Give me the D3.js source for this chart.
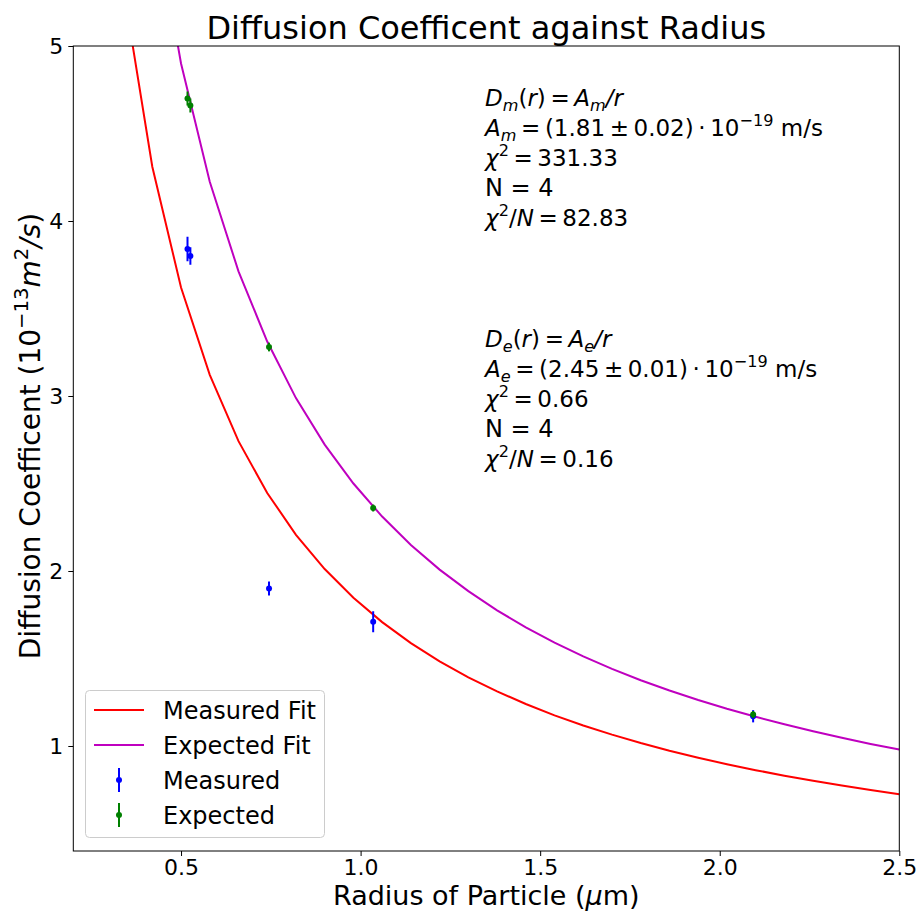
<!DOCTYPE html>
<html>
<head>
<meta charset="utf-8">
<script src="https://cdn.jsdelivr.net/npm/d3@7"></script>
<style>
  body { margin: 0; background: #fff; }
  text { font-family: "DejaVu Sans", sans-serif; }
</style>
</head>
<body>
<svg id="chart" width="919" height="913"></svg>
<script>
// data
var radius = [0.518, 0.526, 0.745, 1.035, 2.093];
var measured = [3.84, 3.80, 1.90, 1.71, 1.17];
var measuredErr = [0.07, 0.05, 0.04, 0.06, 0.035];
var expected = [4.70, 4.66, 3.28, 2.36, 1.18];
var expectedErr = [0.04, 0.04, 0.025, 0.02, 0.02];

// fit curves, sampled every 0.08 um
var fitRadius = [0.34, 0.42, 0.50, 0.58, 0.66, 0.74, 0.82, 0.90, 0.98, 1.06, 1.14, 1.22, 1.30, 1.38,
    1.46, 1.54, 1.62, 1.70, 1.78, 1.86, 1.94, 2.02, 2.10, 2.18, 2.26, 2.34, 2.42, 2.50];
var measuredFit = [5.324, 4.310, 3.620, 3.121, 2.742, 2.446, 2.207, 2.011, 1.847, 1.708, 1.588, 1.484,
    1.392, 1.312, 1.240, 1.175, 1.117, 1.065, 1.017, 0.973, 0.933, 0.896, 0.862, 0.830, 0.801, 0.774,
    0.748, 0.724];
var expectedFit = [7.206, 5.833, 4.900, 4.224, 3.712, 3.311, 2.988, 2.722, 2.500, 2.311, 2.149, 2.008,
    1.885, 1.775, 1.678, 1.591, 1.512, 1.441, 1.376, 1.317, 1.263, 1.213, 1.167, 1.124, 1.084, 1.047,
    1.012, 0.980];

var xTicks = [0.5, 1.0, 1.5, 2.0, 2.5];
var yTicks = [1, 2, 3, 4, 5];

var svg = d3.select("#chart");
var pLeft = 73.3, pRight = 899.3, pTop = 46, pBottom = 851;

var x = d3.scaleLinear().domain([0.2, 2.5]).range([pLeft, pRight]);
var y = d3.scaleLinear().domain([0.4, 5]).range([pBottom, pTop]);

svg.append("defs").append("clipPath").attr("id", "plotclip")
    .append("rect").attr("x", pLeft).attr("y", pTop)
    .attr("width", pRight - pLeft).attr("height", pBottom - pTop);

var plot = svg.append("g").attr("clip-path", "url(#plotclip)");

var line = d3.line().x(function (d) { return x(d[0]); }).y(function (d) { return y(d[1]); });

plot.append("path")
    .datum(d3.zip(fitRadius, measuredFit))
    .attr("d", line).attr("fill", "none").attr("stroke", "#ff0000").attr("stroke-width", 2);
plot.append("path")
    .datum(d3.zip(fitRadius, expectedFit))
    .attr("d", line).attr("fill", "none").attr("stroke", "#bf00bf").attr("stroke-width", 2);

function errorPoints(vals, errs, color) {
    var g = plot.append("g");
    radius.forEach(function (r, i) {
        g.append("line")
            .attr("x1", x(r)).attr("x2", x(r))
            .attr("y1", y(vals[i] - errs[i])).attr("y2", y(vals[i] + errs[i]))
            .attr("stroke", color).attr("stroke-width", 2);
        g.append("circle")
            .attr("cx", x(r)).attr("cy", y(vals[i])).attr("r", 3)
            .attr("fill", color);
    });
}
errorPoints(measured, measuredErr, "#0000ff");
errorPoints(expected, expectedErr, "#008000");

// axes
var xAxis = svg.append("g").attr("transform", "translate(0," + pBottom + ")")
    .call(d3.axisBottom(x).tickValues(xTicks).tickFormat(d3.format(".1f")).tickSize(5).tickSizeOuter(0));
var yAxis = svg.append("g").attr("transform", "translate(" + pLeft + ",0)")
    .call(d3.axisLeft(y).tickValues(yTicks).tickFormat(d3.format("d")).tickSize(5).tickSizeOuter(0));
[xAxis, yAxis].forEach(function (a) {
    a.attr("font-size", 22).attr("font-family", "DejaVu Sans");
    a.select(".domain").remove();
    a.selectAll(".tick line").attr("stroke", "#000").attr("stroke-width", 1);
    a.selectAll(".tick text").attr("fill", "#000");
});
xAxis.selectAll(".tick text").attr("dy", "0.71em").attr("y", 8);
yAxis.selectAll(".tick text").attr("x", -10);

svg.append("rect").attr("x", pLeft).attr("y", pTop)
    .attr("width", pRight - pLeft).attr("height", pBottom - pTop)
    .attr("fill", "none").attr("stroke", "#000").attr("stroke-width", 1);

// math-ish text: segments with italic / sub / sup
function mathText(parent, px, py, segs, size, anchor) {
    var t = parent.append("text").attr("x", px).attr("y", py)
        .attr("font-size", size).attr("fill", "#000");
    if (anchor) t.attr("text-anchor", anchor);
    var shift = 0;
    segs.forEach(function (s) {
        var target = 0, fs = size;
        if (s.sub) { target = 0.22 * size; fs = size * 0.7; }
        if (s.sup) { target = -0.42 * size; fs = size * 0.7; }
        var sp = t.append("tspan").text(s.t).attr("font-size", fs)
            .attr("dy", target - shift);
        if (s.it) sp.attr("font-style", "italic");
        shift = target;
    });
    return t;
}

svg.append("text").attr("x", (pLeft + pRight) / 2).attr("y", 39)
    .attr("text-anchor", "middle").attr("font-size", 32).attr("fill", "#000")
    .text("Diffusion Coefficent against Radius");

svg.append("text").attr("x", (pLeft + pRight) / 2).attr("y", 905)
    .attr("text-anchor", "middle").attr("font-size", 27).attr("fill", "#000")
    .call(function (t) {
        t.append("tspan").text("Radius of Particle (");
        t.append("tspan").text("μ").attr("font-style", "italic");
        t.append("tspan").text("m)");
    });

var ylab = svg.append("g").attr("transform", "translate(40,436) rotate(-90)");
mathText(ylab, 0, 0, [
    { t: "Diffusion Coefficent (10" },
    { t: "−13", sup: 1 },
    { t: "m", it: 1 },
    { t: "2", sup: 1 },
    { t: "/s", it: 1 },
    { t: ")" }
], 28, "middle");

// fit annotations
var fs = 23, lh = 30;
function block(y0, sub, a, chi, n, chin) {
    mathText(svg, 485, y0, [
        { t: "D", it: 1 }, { t: sub, it: 1, sub: 1 }, { t: "(" }, { t: "r", it: 1 }, { t: ")\u2009=\u2009" },
        { t: "A", it: 1 }, { t: sub, it: 1, sub: 1 }, { t: "/r", it: 1 }
    ], fs);
    mathText(svg, 485, y0 + lh, [
        { t: "A", it: 1 }, { t: sub, it: 1, sub: 1 }, { t: "\u2009=\u2009(" + a + ")\u2009·\u200910" },
        { t: "−19", sup: 1 }, { t: " m/s" }
    ], fs);
    mathText(svg, 485, y0 + 2 * lh, [
        { t: "χ", it: 1 }, { t: "2", sup: 1 }, { t: "\u2009=\u2009" + chi }
    ], fs);
    mathText(svg, 485, y0 + 3 * lh, [{ t: "N = " + n }], 24);
    mathText(svg, 485, y0 + 4 * lh, [
        { t: "χ", it: 1 }, { t: "2", sup: 1 }, { t: "/" }, { t: "N", it: 1 }, { t: "\u2009=\u2009" + chin }
    ], fs);
}
block(106, "m", "1.81\u2009±\u20090.02", "331.33", 4, "82.83");
block(347, "e", "2.45\u2009±\u20090.01", "0.66", 4, "0.16");

// legend
var leg = svg.append("g");
leg.append("rect").attr("x", 85.5).attr("y", 690.5).attr("width", 239).attr("height", 147)
    .attr("rx", 4).attr("fill", "#fff").attr("fill-opacity", 0.8)
    .attr("stroke", "#cccccc").attr("stroke-width", 1);
var legItems = [
    { label: "Measured Fit", color: "#ff0000", type: "line" },
    { label: "Expected Fit", color: "#bf00bf", type: "line" },
    { label: "Measured", color: "#0000ff", type: "err" },
    { label: "Expected", color: "#008000", type: "err" }
];
legItems.forEach(function (d, i) {
    var cy = 710 + i * 35;
    if (d.type === "line") {
        leg.append("line").attr("x1", 94).attr("x2", 144).attr("y1", cy).attr("y2", cy)
            .attr("stroke", d.color).attr("stroke-width", 2);
    } else {
        leg.append("line").attr("x1", 119).attr("x2", 119).attr("y1", cy - 12).attr("y2", cy + 12)
            .attr("stroke", d.color).attr("stroke-width", 2);
        leg.append("circle").attr("cx", 119).attr("cy", cy).attr("r", 3).attr("fill", d.color);
    }
    leg.append("text").attr("x", 163).attr("y", cy + 9).attr("font-size", 24).attr("fill", "#000")
        .text(d.label);
});
</script>
</body>
</html>
